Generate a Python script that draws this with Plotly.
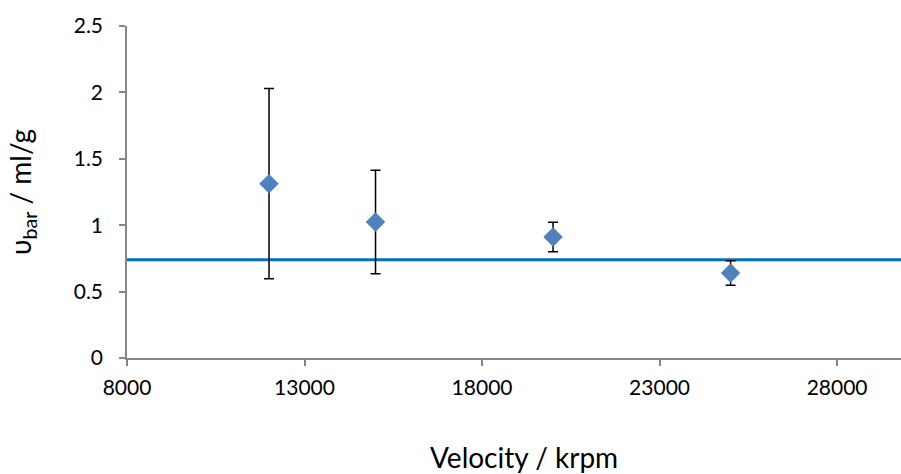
import plotly.graph_objects as go

velocity = [12000, 15000, 20000, 25000]
vbar = [1.313, 1.024, 0.911, 0.64]
vbar_err = [0.716, 0.389, 0.111, 0.093]
reference_value = 0.74
x_tick_vals = [8000, 13000, 18000, 23000, 28000]
y_tick_vals = [0, 0.5, 1, 1.5, 2, 2.5]
y_tick_text = ["0", "0.5", "1", "1.5", "2", "2.5"]

fig = go.Figure()
fig.add_hline(y=reference_value, line=dict(color="#0070C0", width=3), layer="below")
fig.add_trace(go.Scatter(
    x=velocity, y=vbar, mode="markers",
    marker=dict(symbol="diamond", size=15, color="#4F81BD"),
    error_y=dict(type="data", array=vbar_err, visible=True, color="black", thickness=1.5, width=5),
    showlegend=False,
))

font_family = "Lato, 'Open Sans', sans-serif"
fig.add_annotation(
    text="Velocity / krpm", xref="paper", yref="paper", x=0.513, y=-0.298,
    xanchor="center", yanchor="middle", showarrow=False, font=dict(size=28),
)
fig.update_layout(
    width=901, height=474,
    margin=dict(l=127, r=0, t=26, b=116),
    plot_bgcolor="white", paper_bgcolor="white",
    font=dict(family=font_family, color="black", size=21),
    xaxis=dict(
        range=[8000, 29800], tickvals=x_tick_vals, ticktext=[str(v) for v in x_tick_vals],
        showgrid=False, zeroline=False, showline=True, linecolor="#868686", linewidth=1.5,
        ticks="outside", ticklen=6, tickcolor="#868686", tickwidth=1.5, ticklabelstandoff=4,
        tickfont=dict(size=21),
    ),
    yaxis=dict(
        range=[0, 2.5], tickvals=y_tick_vals, ticktext=y_tick_text,
        showgrid=False, zeroline=False, showline=True, linecolor="#868686", linewidth=1.5,
        ticks="outside", ticklen=6, tickcolor="#868686", tickwidth=1.5, ticklabelstandoff=12,
        tickfont=dict(size=21), title=dict(text="υ<sub>bar</sub> / ml/g", font=dict(size=28), standoff=34),
    ),
)
fig.write_html("out.html")
